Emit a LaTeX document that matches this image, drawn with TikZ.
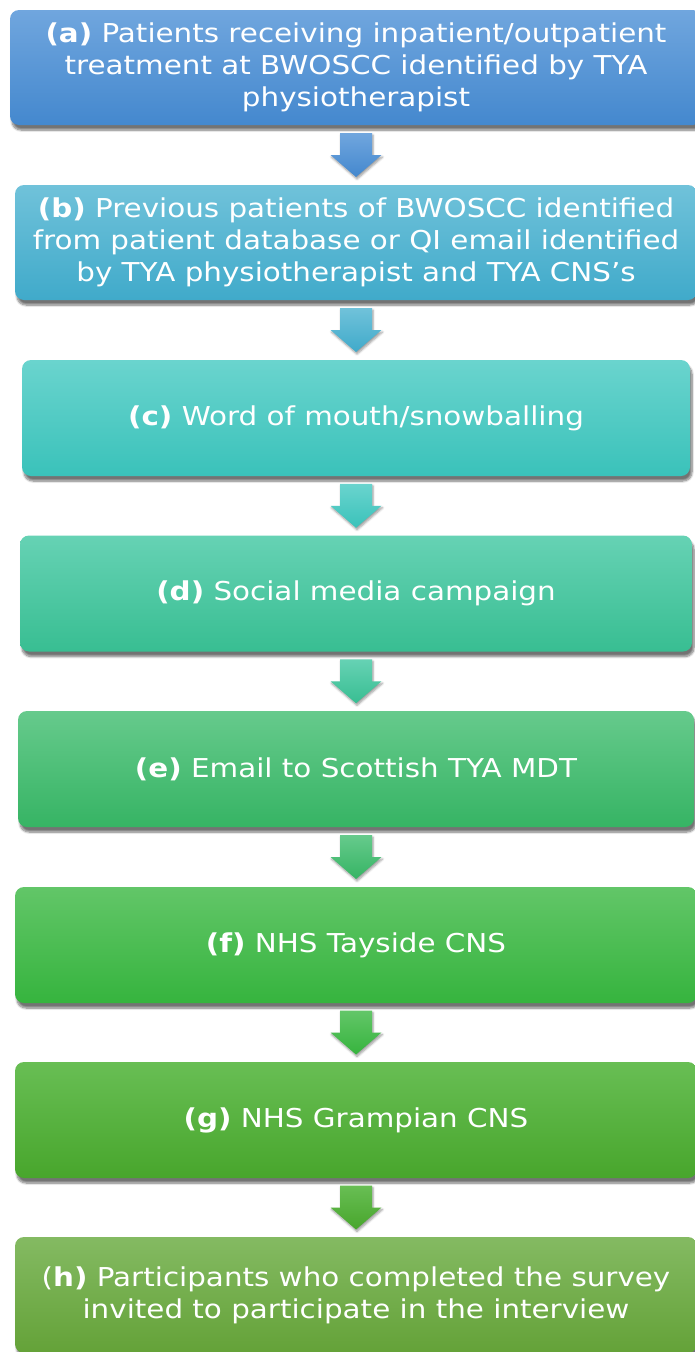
\documentclass[tikz,border=0pt]{standalone}
\usepackage{fontspec}
\setmainfont{DejaVu Sans}[FakeStretch=1.13]
\usetikzlibrary{calc,shadows.blur}

% box colours, top and bottom of each vertical gradient
\definecolor{aTop}{RGB}{112,166,222}
\definecolor{aBot}{RGB}{68,136,206}
\definecolor{bTop}{RGB}{112,194,218}
\definecolor{bBot}{RGB}{64,170,202}
\definecolor{cTop}{RGB}{106,212,206}
\definecolor{cBot}{RGB}{58,194,186}
\definecolor{dTop}{RGB}{102,210,180}
\definecolor{dBot}{RGB}{56,190,146}
\definecolor{eTop}{RGB}{102,202,140}
\definecolor{eBot}{RGB}{54,180,100}
\definecolor{fTop}{RGB}{98,198,104}
\definecolor{fBot}{RGB}{54,180,62}
\definecolor{gTop}{RGB}{104,190,84}
\definecolor{gBot}{RGB}{72,166,44}
\definecolor{hTop}{RGB}{132,186,98}
\definecolor{hBot}{RGB}{100,162,56}

\tikzset{
  x=1pt, y=-1pt,
  stagebox/.style={
    rounded corners=9pt, draw=none,
    inner sep=0pt, align=center, text=white,
    font=\fontsize{26}{32}\selectfont,
    minimum height=116pt,
    blur shadow={shadow xshift=2pt, shadow yshift=-5pt,
                 shadow blur steps=8, shadow blur extra rounding=2pt,
                 shadow opacity=55}
  },
  downarrow/.style={
    draw=none,
    blur shadow={shadow xshift=1pt, shadow yshift=-2pt,
                 shadow blur steps=5, shadow opacity=40}
  }
}

% block arrow drawn about the midpoint between two boxes
\newcommand{\stagearrow}[4]{%
  \coordinate (#1#2m) at ($(#1.south)!0.5!(#2.north)$);
  \path[downarrow, top color=#3, bottom color=#4]
    (#1#2m) ++(-16,-22) -- ++(32,0) -- ++(0,22) -- ++(9.5,0)
    -- ++(-25.5,22) -- ++(-25.5,-22) -- ++(9.5,0) -- cycle;
}

\begin{document}
\begin{tikzpicture}
\useasboundingbox (0,0) rectangle (694,1352);

\node[stagebox, minimum width=692pt, top color=aTop, bottom color=aBot, minimum height=115pt]
  (a) at (356,67.5)
  {\textbf{(a)} Patients receiving inpatient/outpatient\\
   treatment at BWOSCC identified by TYA\\
   physiotherapist};

\node[stagebox, minimum width=682pt, top color=bTop, bottom color=bBot, minimum height=115pt]
  (b) at (356,242.5)
  {\textbf{(b)} Previous patients of BWOSCC identified\\
   from patient database or QI email identified\\
   by TYA physiotherapist and TYA CNS’s};

\node[stagebox, minimum width=668pt, top color=cTop, bottom color=cBot]
  (c) at (356,418)
  {\textbf{(c)} Word of mouth/snowballing};

\node[stagebox, minimum width=672pt, top color=dTop, bottom color=dBot]
  (d) at (356,593.5)
  {\textbf{(d)} Social media campaign};

\node[stagebox, minimum width=676pt, top color=eTop, bottom color=eBot]
  (e) at (356,769)
  {\textbf{(e)} Email to Scottish TYA MDT};

\node[stagebox, minimum width=682pt, top color=fTop, bottom color=fBot]
  (f) at (356,945)
  {\textbf{(f)} NHS Tayside CNS};

\node[stagebox, minimum width=682pt, top color=gTop, bottom color=gBot]
  (g) at (356,1120)
  {\textbf{(g)} NHS Grampian CNS};

\node[stagebox, minimum width=682pt, top color=hTop, bottom color=hBot]
  (h) at (356,1295)
  {(\textbf{h)} Participants who completed the survey\\
   invited to participate in the interview};

\stagearrow{a}{b}{aTop}{aBot}
\stagearrow{b}{c}{bTop}{bBot}
\stagearrow{c}{d}{cTop}{cBot}
\stagearrow{d}{e}{dTop}{dBot}
\stagearrow{e}{f}{eTop}{eBot}
\stagearrow{f}{g}{fTop}{fBot}
\stagearrow{g}{h}{gTop}{gBot}
\end{tikzpicture}
\end{document}
